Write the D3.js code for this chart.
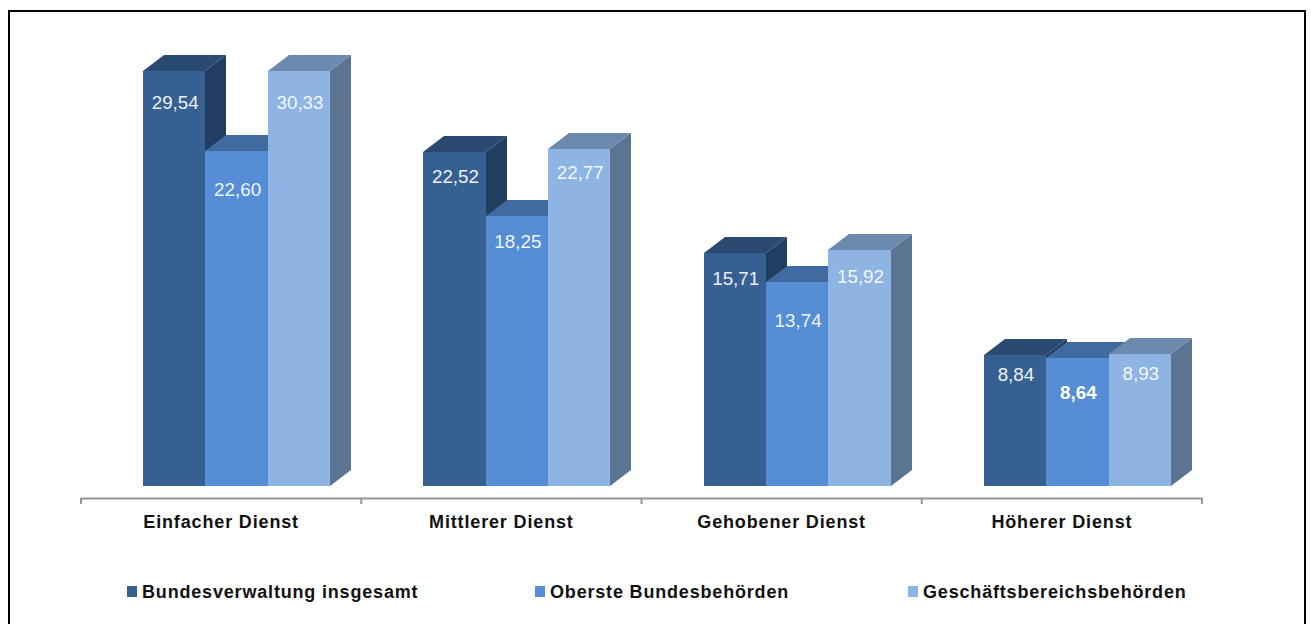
<!DOCTYPE html>
<html><head><meta charset="utf-8">
<script src="https://cdn.jsdelivr.net/npm/d3@7"></script>
<style>html,body{margin:0;padding:0;background:#fff}svg{display:block}text{font-family:"Liberation Sans",Arial,sans-serif}</style>
</head><body><svg id="c" width="1311" height="624"></svg>
<script>
const categories = ["Einfacher Dienst","Mittlerer Dienst","Gehobener Dienst","Höherer Dienst"];
const seriesNames = ["Bundesverwaltung insgesamt","Oberste Bundesbehörden","Geschäftsbereichsbehörden"];
const bundesverwaltung = [29.54,22.52,15.71,8.84];
const oberste = [22.60,18.25,13.74,8.64];
const geschaeftsbereich = [30.33,22.77,15.92,8.93];
const seriesValues = [bundesverwaltung,oberste,geschaeftsbereich];
const frontColors = ["#376092","#558ED5","#8EB4E3"];
const topColors = ["#2A4A72","#406BA1","#6C89AE"];
const sideColors = ["#213D60","#3A6499","#5B7491"];
const axisMax = 28; // the value axis ends here, so taller bars are cut off
// hand-placed distance of each label below its bar top, one row per series
const labelDrop = [[32,25,26,20],[39,26,39,35],[32,24,27,20]];
const boldLabels = [[0,0,0,0],[0,0,0,1],[0,0,0,0]];
const legendX = [127,535,908];

const svg = d3.select("#c");
svg.append("path").attr("d","M9,630V11H1305V630")
  .attr("fill","none").attr("stroke","#000").attr("stroke-width",2);

const baseY = 486, depthX = 21, depthY = 16;
const y = d3.scaleLinear().domain([0,axisMax]).range([baseY,71]).clamp(true).interpolate(d3.interpolateRound);
const x0 = d3.scaleBand().domain(categories).range([81,1202]);
const x1 = d3.scaleBand().domain(d3.range(3)).range([62,62+187.2]);
const tickScale = d3.scaleLinear().domain([0,4]).range([81,1202]);

const poly = pts => pts.map(p=>p.join(",")).join(" ");
seriesValues.forEach((vals,s)=>{
  const g = svg.append("g");
  const bars = g.selectAll("g").data(vals).join("g");
  const L = (d,i)=>Math.round(x0(categories[i])+x1(s)), R=(d,i)=>Math.round(x0(categories[i])+x1(s)+x1.bandwidth());
  bars.append("polygon").attr("fill",sideColors[s]).attr("points",(d,i)=>poly([
    [R(d,i),y(d)],[R(d,i)+depthX,y(d)-depthY],[R(d,i)+depthX,baseY-depthY],[R(d,i),baseY]]));
  bars.append("polygon").attr("fill",topColors[s]).attr("points",(d,i)=>poly([
    [L(d,i),y(d)],[L(d,i)+depthX,y(d)-depthY],[R(d,i)+depthX,y(d)-depthY],[R(d,i),y(d)]]));
  bars.append("rect").attr("fill",frontColors[s])
    .attr("x",L).attr("width",(d,i)=>R(d,i)-L(d,i)).attr("y",d=>y(d)).attr("height",d=>baseY-y(d));
});
// labels on top of all bars
seriesValues.forEach((vals,s)=>{
  svg.append("g").selectAll("text").data(vals).join("text")
    .attr("x",(d,i)=>x0(categories[i])+x1(s)+x1.bandwidth()/2+1)
    .attr("y",(d,i)=>y(d)+labelDrop[s][i])
    .attr("dy","0.31em").attr("text-anchor","middle")
    .attr("fill","#fff").attr("font-size",18.8)
    .attr("font-weight",(d,i)=>boldLabels[s][i]?"bold":"normal")
    .attr("opacity",(d,i)=>boldLabels[s][i]?1:0.9)
    .text(d=>d3.format(".2f")(d).replace(".",","));
});
// axis
const tickAxis = d3.axisBottom(tickScale).tickValues([0,1,2,3,4]).tickSize(6).tickSizeOuter(0).tickFormat("");
const axG = svg.append("g").attr("transform","translate(-0.5,498)").call(tickAxis);
axG.selectAll("path,line").attr("stroke","#969696").attr("stroke-width",2);
const labAxis = d3.axisBottom(x0).tickSize(0);
const labG = svg.append("g").attr("transform","translate(0,498)").call(labAxis);
labG.select("path").remove();
labG.selectAll("text").attr("y",17).attr("dy","0.71em").attr("fill","#111").attr("font-size",18).attr("font-weight","bold")
  .attr("letter-spacing",0.85)
  .style("font-family",'"Liberation Sans",Arial,sans-serif');
// legend
const leg = svg.append("g").selectAll("g").data(seriesNames).join("g")
  .attr("transform",(d,i)=>`translate(${legendX[i]},586)`);
leg.append("rect").attr("width",10).attr("height",11).attr("fill",(d,i)=>frontColors[i]);
leg.append("text").attr("x",15).attr("y",5.5).attr("dy","0.36em")
  .attr("font-size",18).attr("letter-spacing",0.82).attr("font-weight","bold").attr("fill","#111").text(d=>d);
</script></body></html>
